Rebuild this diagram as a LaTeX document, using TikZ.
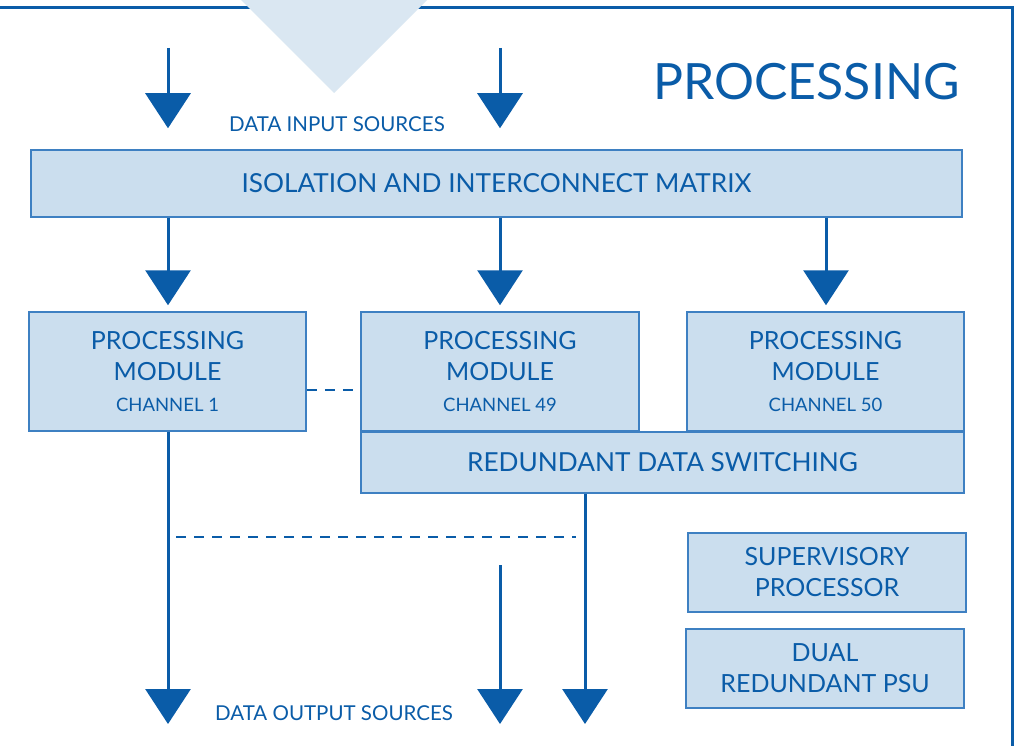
\documentclass[tikz,border=0pt]{standalone}
\usepackage{fontspec}
\setmainfont{Lato}
\usetikzlibrary{arrows.meta,calc}
\definecolor{dblue}{HTML}{0A5CA8}
\definecolor{bfill}{HTML}{CBDEEE}
\definecolor{bline}{HTML}{3E80C2}
\definecolor{tri}{HTML}{DAE7F2}
\begin{document}
\begin{tikzpicture}[x=1pt,y=-1pt,
  box/.style={draw=bline, fill=bfill, line width=1.5pt, text=dblue, align=center, inner sep=0pt,
    font=\fontsize{25}{31}\selectfont},
  wide/.style={font=\fontsize{26.2}{31}\selectfont},
  lbl/.style={text=dblue, inner sep=0pt, font=\fontsize{20.5}{24}\selectfont},
  arr/.style={draw=dblue, line width=3pt, -{Triangle[length=35pt,width=45pt]}},
  dsh/.style={draw=dblue, line width=2.5pt, dash pattern=on 10pt off 8pt}]
\useasboundingbox (0,0) rectangle (1017,746);
\fill[white] (0,0) rectangle (1017,746);
% frame
\draw[dblue, line width=3pt] (0,8) -- (1012,8) -- (1012,746);
\fill[tri] (240,-1) -- (334,93) -- (428,-1) -- cycle;
% title
\node[text=dblue, inner sep=0pt, font=\fontsize{50}{60}\selectfont] (title) at (806.5,82) {PROCESSING};
% boxes
\node[box, wide, minimum width=931pt, minimum height=67pt] (iso) at (496.5,183.5) {ISOLATION AND INTERCONNECT MATRIX};
\node[box, minimum width=277pt, minimum height=119pt] (m1) at (167.5,371.5) {PROCESSING\\MODULE\\{\fontsize{18.5}{31}\selectfont CHANNEL 1}};
\node[box, minimum width=278pt, minimum height=119pt] (m2) at (500,371.5) {PROCESSING\\MODULE\\{\fontsize{18.5}{31}\selectfont CHANNEL 49}};
\node[box, minimum width=277pt, minimum height=119pt] (m3) at (825.5,371.5) {PROCESSING\\MODULE\\{\fontsize{18.5}{31}\selectfont CHANNEL 50}};
\node[box, wide, minimum width=603pt, minimum height=61pt] (rds) at (662.5,462.5) {REDUNDANT DATA SWITCHING};
\node[box, minimum width=278pt, minimum height=79pt] (sup) at (827,572.5) {SUPERVISORY\\PROCESSOR};
\node[box, minimum width=278pt, minimum height=79pt] (psu) at (825,668.5) {DUAL\\REDUNDANT PSU};
% labels
\node[lbl] (din) at (337,124) {DATA INPUT SOURCES};
\node[lbl] (dout) at (334,713) {DATA OUTPUT SOURCES};
% coordinates
\coordinate (in1) at (168,48);
\coordinate (in2) at (500,48);
\coordinate (o1) at (168,724);
\coordinate (s2) at (500,565);
\coordinate (o2) at (500,724);
\coordinate (o3) at (585,724);
\coordinate (d1) at (176,537);
\coordinate (d2) at (576,537);
% input arrows
\draw[arr, shorten >=21pt] (in1) -- (in1 |- iso.north);
\draw[arr, shorten >=21pt] (in2) -- (in2 |- iso.north);
% module arrows
\draw[arr, shorten >=6pt] (in1 |- iso.south) -- (in1 |- m1.north);
\draw[arr, shorten >=6pt] (m2.north |- iso.south) -- (m2.north);
\draw[arr, shorten >=6pt] (826,0 |- iso.south) -- (826,0 |- m3.north);
% dashed
\draw[dsh] (m1.east |- 0,390) -- (m2.west |- 0,390);
\draw[dsh] (d1) -- (d2);
% outputs
\draw[arr] (o1 |- m1.south) -- (o1);
\draw[arr] (s2) -- (o2);
\draw[arr] (o3 |- rds.south) -- (o3);
\end{tikzpicture}
\end{document}
